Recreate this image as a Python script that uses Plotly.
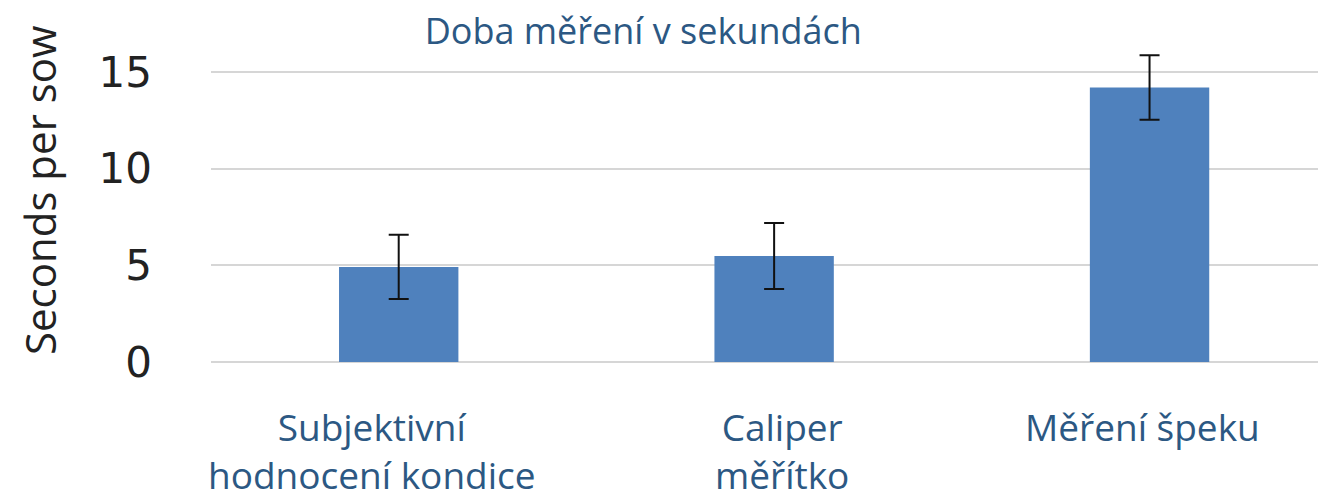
"""Measurement time per sow by method."""

import plotly.graph_objects as go

CATEGORIES = ["Subjektivní hodnocení kondice", "Caliper měřítko", "Měření špeku"]
CATEGORY_LABELS = ["Subjektivní<br>hodnocení kondice", "Caliper<br>měřítko", "Měření špeku"]
SECONDS = [4.92, 5.48, 14.2]
ERRORS = [1.66, 1.71, 1.67]
Y_TICKS = [0, 5, 10, 15]

TEXT_BLUE = "#2C5883"
BAR_BLUE = "#4F81BD"
GRID_GREY = "#D6D6D6"
# horizontal nudges of the category labels, in px, as laid out in the source slide
LABEL_XSHIFT = [-27, 8, -7]
LABEL_YSHIFT = -37

fig = go.Figure(
    go.Bar(
        x=CATEGORIES,
        y=SECONDS,
        width=0.318,
        marker=dict(color=BAR_BLUE, line=dict(width=0)),
        error_y=dict(
            type="data",
            array=ERRORS,
            color="#111111",
            thickness=2,
            width=10,
        ),
        showlegend=False,
    )
)

label_annotations = [
    dict(
        text=label,
        xref="x",
        yref="y",
        x=category,
        y=0,
        xanchor="center",
        yanchor="top",
        xshift=shift,
        yshift=LABEL_YSHIFT,
        showarrow=False,
        align="center",
        font=dict(family="Open Sans", size=37, color=TEXT_BLUE),
    )
    for category, label, shift in zip(CATEGORIES, CATEGORY_LABELS, LABEL_XSHIFT)
]

# page body adds an 8px margin, so the figure is sized a little smaller
fig.update_layout(
    width=1318,
    height=489,
    margin=dict(l=203, r=0, t=35, b=135),
    paper_bgcolor="white",
    plot_bgcolor="white",
    title=dict(
        text="Doba měření v sekundách",
        x=0.482,
        xanchor="center",
        y=0.978,
        yanchor="top",
        pad=dict(t=0, b=0),
        font=dict(family="Open Sans", size=36, color=TEXT_BLUE),
    ),
    annotations=[
        dict(
            text="Seconds per sow",
            textangle=-90,
            xref="paper",
            yref="paper",
            x=-0.154,
            y=0.54,
            xanchor="center",
            yanchor="middle",
            showarrow=False,
            font=dict(family="Open Sans", size=42, color="#222222"),
        ),
        *label_annotations,
    ],
)

fig.update_xaxes(
    range=[-0.5, 2.47],
    showline=False,
    showgrid=False,
    ticks="",
    showticklabels=False,
)
fig.update_yaxes(
    range=[0, 16.5],
    tickvals=Y_TICKS,
    showgrid=True,
    gridcolor=GRID_GREY,
    gridwidth=2,
    zeroline=True,
    zerolinecolor=GRID_GREY,
    zerolinewidth=2,
    showline=False,
    ticks="",
    ticklabelstandoff=58,
    tickfont=dict(family="DejaVu Sans", size=42, color="#222222"),
)

fig.write_html("out.html")
